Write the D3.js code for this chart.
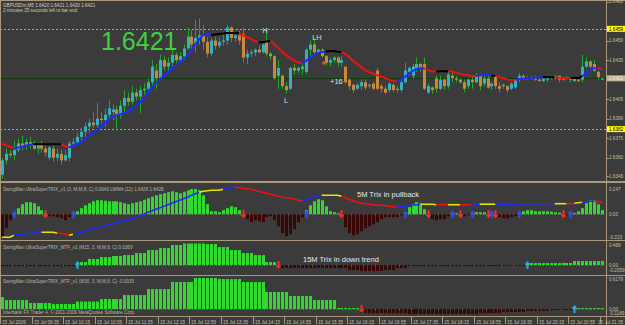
<!DOCTYPE html>
<html>
<head>
<meta charset="utf-8">
<script src="https://cdn.jsdelivr.net/npm/d3@7"></script>
<style>
body {margin:0; background:#3b3b3b;}
svg {display:block;}
</style>
</head>
<body>
<div id="chart"></div>
<script>
"use strict"

// GBPUSDm M5, 15 Jul 2009, one bar every 5 minutes from 08:55

var tickLabels = ["15 Jul 2009","15 Jul 09:35","15 Jul 10:15","15 Jul 10:55","15 Jul 11:35",
	"15 Jul 12:15","15 Jul 12:55","15 Jul 13:35","15 Jul 14:15","15 Jul 14:55","15 Jul 15:35",
	"15 Jul 16:15","15 Jul 16:55","15 Jul 17:35","15 Jul 18:15","15 Jul 18:55","15 Jul 19:35",
	"15 Jul 20:15","15 Jul 20:55","15 Jul 21:35"];
var tickEvery = 8; // bars between time labels

var open = [1.6347,1.6358,1.6363,1.6362,1.6366,1.6371,1.6369,1.6372,1.6370,1.6367,
	1.6370,1.6367,1.6360,1.6367,1.6360,1.6363,1.6358,1.6360,1.6371,1.6372,
	1.6376,1.6380,1.6384,1.6387,1.6385,1.6390,1.6389,1.6393,1.6395,1.6397,
	1.6393,1.6400,1.6406,1.6403,1.6410,1.6407,1.6412,1.6413,1.6418,1.6427,
	1.6421,1.6435,1.6430,1.6433,1.6439,1.6435,1.6438,1.6444,1.6453,1.6447,
	1.6452,1.6454,1.6449,1.6440,1.6450,1.6446,1.6449,1.6450,1.6460,1.6452,
	1.6454,1.6455,1.6437,1.6440,1.6441,1.6443,1.6441,1.6449,1.6440,1.6438,
	1.6423,1.6423,1.6415,1.6413,1.6429,1.6427,1.6428,1.6426,1.6443,1.6447,
	1.6441,1.6443,1.6438,1.6433,1.6435,1.6437,1.6433,1.6430,1.6420,1.6416,
	1.6413,1.6415,1.6418,1.6415,1.6417,1.6427,1.6415,1.6413,1.6412,1.6416,
	1.6412,1.6412,1.6418,1.6426,1.6423,1.6429,1.6432,1.6432,1.6410,1.6414,
	1.6421,1.6413,1.6420,1.6415,1.6423,1.6421,1.6420,1.6418,1.6415,1.6420,
	1.6418,1.6423,1.6417,1.6421,1.6415,1.6422,1.6415,1.6415,1.6415,1.6413,
	1.6414,1.6420,1.6423,1.6421,1.6422,1.6421,1.6420,1.6419,1.6420,1.6422,
	1.6421,1.6423,1.6420,1.6421,1.6422,1.6419,1.6420,1.6420,1.6430,1.6434,
	1.6432,1.6426,1.6420];

var high = [1.6360,1.6367,1.6366,1.6373,1.6375,1.6377,1.6375,1.6376,1.6373,1.6372,
	1.6373,1.6370,1.6369,1.6370,1.6367,1.6366,1.6366,1.6373,1.6375,1.6379,
	1.6383,1.6387,1.6390,1.6395,1.6402,1.6395,1.6398,1.6404,1.6401,1.6400,
	1.6404,1.6412,1.6410,1.6415,1.6413,1.6415,1.6417,1.6421,1.6435,1.6432,
	1.6439,1.6438,1.6437,1.6443,1.6441,1.6441,1.6447,1.6460,1.6458,1.6466,
	1.6467,1.6462,1.6453,1.6452,1.6453,1.6452,1.6457,1.6462,1.6461,1.6457,
	1.6458,1.6460,1.6443,1.6443,1.6444,1.6446,1.6449,1.6460,1.6441,1.6439,
	1.6435,1.6424,1.6418,1.6430,1.6432,1.6430,1.6433,1.6444,1.6450,1.6452,
	1.6444,1.6444,1.6439,1.6437,1.6438,1.6438,1.6438,1.6430,1.6421,1.6417,
	1.6417,1.6420,1.6420,1.6417,1.6418,1.6429,1.6417,1.6415,1.6418,1.6417,
	1.6415,1.6420,1.6433,1.6430,1.6432,1.6437,1.6433,1.6437,1.6417,1.6415,
	1.6423,1.6423,1.6421,1.6426,1.6427,1.6423,1.6421,1.6420,1.6421,1.6423,
	1.6425,1.6424,1.6424,1.6423,1.6418,1.6423,1.6418,1.6417,1.6416,1.6418,
	1.6420,1.6425,1.6424,1.6423,1.6423,1.6423,1.6422,1.6422,1.6423,1.6423,
	1.6423,1.6423,1.6422,1.6423,1.6422,1.6421,1.6422,1.6439,1.6437,1.6435,
	1.6435,1.6427,1.6421];

var low = [1.6344,1.6355,1.6360,1.6358,1.6364,1.6366,1.6366,1.6367,1.6366,1.6363,
	1.6364,1.6361,1.6358,1.6357,1.6357,1.6355,1.6357,1.6357,1.6368,1.6370,
	1.6373,1.6376,1.6379,1.6383,1.6383,1.6386,1.6384,1.6390,1.6389,1.6381,
	1.6390,1.6395,1.6400,1.6401,1.6404,1.6394,1.6407,1.6410,1.6415,1.6413,
	1.6420,1.6427,1.6427,1.6430,1.6432,1.6433,1.6435,1.6443,1.6443,1.6441,
	1.6447,1.6443,1.6437,1.6438,1.6443,1.6444,1.6446,1.6447,1.6449,1.6449,
	1.6447,1.6433,1.6432,1.6437,1.6438,1.6440,1.6440,1.6438,1.6435,1.6420,
	1.6413,1.6413,1.6409,1.6412,1.6424,1.6425,1.6424,1.6424,1.6437,1.6439,
	1.6440,1.6437,1.6431,1.6430,1.6433,1.6430,1.6430,1.6417,1.6412,1.6410,
	1.6412,1.6412,1.6412,1.6413,1.6412,1.6412,1.6410,1.6409,1.6410,1.6410,
	1.6410,1.6410,1.6417,1.6423,1.6421,1.6426,1.6426,1.6412,1.6409,1.6409,
	1.6410,1.6412,1.6412,1.6413,1.6418,1.6418,1.6417,1.6410,1.6413,1.6413,
	1.6417,1.6412,1.6415,1.6413,1.6412,1.6413,1.6410,1.6413,1.6410,1.6412,
	1.6413,1.6418,1.6420,1.6420,1.6420,1.6419,1.6418,1.6418,1.6418,1.6420,
	1.6420,1.6418,1.6419,1.6420,1.6418,1.6418,1.6418,1.6418,1.6429,1.6429,
	1.6426,1.6420,1.6420];

var close = [1.6358,1.6363,1.6362,1.6366,1.6371,1.6369,1.6372,1.6370,1.6367,1.6370,
	1.6367,1.6364,1.6368,1.6360,1.6363,1.6358,1.6362,1.6371,1.6372,1.6376,
	1.6380,1.6384,1.6387,1.6385,1.6390,1.6389,1.6393,1.6398,1.6397,1.6393,
	1.6400,1.6406,1.6403,1.6410,1.6407,1.6412,1.6413,1.6418,1.6430,1.6421,
	1.6435,1.6430,1.6433,1.6439,1.6435,1.6438,1.6444,1.6453,1.6447,1.6452,
	1.6454,1.6449,1.6440,1.6450,1.6446,1.6449,1.6450,1.6460,1.6452,1.6454,
	1.6450,1.6437,1.6440,1.6441,1.6443,1.6441,1.6447,1.6440,1.6438,1.6421,
	1.6429,1.6415,1.6412,1.6429,1.6427,1.6429,1.6430,1.6443,1.6447,1.6441,
	1.6443,1.6438,1.6433,1.6435,1.6437,1.6433,1.6435,1.6418,1.6415,1.6412,
	1.6416,1.6418,1.6414,1.6416,1.6413,1.6413,1.6413,1.6410,1.6417,1.6412,
	1.6413,1.6418,1.6427,1.6429,1.6430,1.6432,1.6429,1.6413,1.6415,1.6412,
	1.6413,1.6420,1.6415,1.6424,1.6421,1.6420,1.6418,1.6413,1.6420,1.6418,
	1.6423,1.6415,1.6421,1.6414,1.6417,1.6415,1.6413,1.6416,1.6412,1.6417,
	1.6420,1.6423,1.6421,1.6422,1.6421,1.6420,1.6419,1.6421,1.6422,1.6421,
	1.6423,1.6420,1.6421,1.6422,1.6420,1.6421,1.6419,1.6430,1.6434,1.6430,
	1.6427,1.6422,1.6421];

// LWMA (12) on the price chart, coloured by its slope
var ma = [1.63708,1.63696,1.63685,1.63673,1.63677,1.63685,1.63692,1.63700,1.63704,1.63704,
	1.63704,1.63704,1.63704,1.63704,1.63704,1.63704,1.63688,1.63681,1.63688,1.63704,
	1.63719,1.63742,1.63765,1.63788,1.63812,1.63835,1.63865,1.63892,1.63912,1.63927,
	1.63935,1.63942,1.63958,1.63981,1.64004,1.64027,1.64065,1.64104,1.64142,1.64173,
	1.64204,1.64227,1.64258,1.64288,1.64312,1.64335,1.64358,1.64381,1.64427,1.64473,
	1.64512,1.64542,1.64542,1.64542,1.64546,1.64550,1.64554,1.64558,1.64558,1.64558,
	1.64558,1.64542,1.64527,1.64512,1.64496,1.64488,1.64488,1.64492,1.64496,1.64473,
	1.64442,1.64415,1.64388,1.64365,1.64346,1.64331,1.64327,1.64342,1.64369,1.64392,
	1.64404,1.64412,1.64415,1.64419,1.64419,1.64415,1.64412,1.64396,1.64373,1.64342,
	1.64319,1.64296,1.64273,1.64258,1.64246,1.64235,1.64223,1.64212,1.64200,1.64192,
	1.64188,1.64196,1.64219,1.64242,1.64265,1.64281,1.64288,1.64285,1.64273,1.64262,
	1.64262,1.64265,1.64265,1.64265,1.64262,1.64254,1.64246,1.64238,1.64235,1.64227,
	1.64227,1.64231,1.64235,1.64235,1.64231,1.64227,1.64219,1.64212,1.64200,1.64196,
	1.64200,1.64204,1.64208,1.64212,1.64215,1.64215,1.64219,1.64219,1.64219,1.64219,
	1.64219,1.64215,1.64212,1.64212,1.64212,1.64212,1.64212,1.64227,1.64250,1.64273,
	1.64288,1.64288,1.64281];
var maSegments = [[0,3,"r"],[3,8,"b"],[8,15,"k"],[15,17,"r"],[17,53,"b"],[53,60,"k"],
	[60,65,"r"],[65,68,"k"],[68,76,"r"],[76,82,"b"],[82,86,"k"],[86,100,"r"],[100,107,"b"],
	[107,110,"r"],[110,113,"k"],[113,120,"r"],[120,124,"b"],[124,125,"k"],[125,130,"r"],
	[130,137,"b"],[137,140,"k"],[140,144,"r"],[144,147,"k"],[147,151,"b"],[151,152,"r"]];

// SwingMan UltraSuperTRIX_v1 (M5)
var trixHist = [-0.223,-0.137,-0.059,0.010,0.059,0.098,0.118,0.118,0.108,0.078,
	0.039,0.010,-0.020,-0.020,-0.029,-0.039,-0.059,-0.029,0.010,0.029,
	0.059,0.088,0.108,0.127,0.137,0.137,0.132,0.127,0.127,0.127,
	0.118,0.108,0.098,0.108,0.118,0.127,0.142,0.157,0.172,0.186,
	0.196,0.206,0.216,0.225,0.216,0.206,0.221,0.235,0.247,0.247,
	0.235,0.186,0.098,0.029,0.029,0.020,0.039,0.059,0.078,0.069,
	0.039,-0.010,-0.049,-0.078,-0.059,-0.069,-0.078,-0.029,-0.020,-0.059,
	-0.118,-0.186,-0.216,-0.196,-0.147,-0.078,-0.029,0.039,0.088,0.127,
	0.147,0.137,0.078,0.029,0.020,0.010,-0.020,-0.127,-0.186,-0.206,
	-0.196,-0.167,-0.137,-0.118,-0.098,-0.078,-0.049,-0.029,-0.029,-0.029,
	-0.029,-0.010,0.020,0.069,0.098,0.118,0.108,0.049,-0.010,-0.049,
	-0.059,-0.049,-0.049,-0.020,0.010,0.010,-0.010,-0.020,-0.010,0.010,
	0.020,0.020,0.020,-0.010,0.010,-0.010,-0.029,-0.039,-0.039,-0.029,
	-0.020,0.010,0.029,0.039,0.039,0.029,0.029,0.029,0.029,0.025,
	0.020,0.015,-0.010,-0.010,0.010,0.010,0.029,0.059,0.108,0.137,
	0.137,0.098,0.039];
var trixLine = [-0.225,-0.225,-0.225,-0.206,-0.201,-0.196,-0.191,-0.186,-0.181,-0.176,
	-0.176,-0.176,-0.176,-0.176,-0.186,-0.186,-0.196,-0.206,-0.196,-0.186,
	-0.176,-0.167,-0.152,-0.142,-0.132,-0.123,-0.113,-0.103,-0.093,-0.083,
	-0.074,-0.064,-0.054,-0.044,-0.029,-0.015,0.000,0.020,0.034,0.049,
	0.064,0.078,0.093,0.108,0.123,0.137,0.152,0.167,0.186,0.201,
	0.216,0.225,0.230,0.235,0.235,0.235,0.245,0.255,0.260,0.265,
	0.260,0.255,0.250,0.245,0.235,0.225,0.216,0.206,0.196,0.186,
	0.176,0.167,0.162,0.157,0.147,0.137,0.127,0.142,0.157,0.172,
	0.181,0.186,0.186,0.186,0.186,0.186,0.176,0.162,0.147,0.132,
	0.118,0.108,0.103,0.098,0.093,0.088,0.088,0.083,0.078,0.074,
	0.069,0.074,0.078,0.083,0.088,0.093,0.098,0.098,0.098,0.098,
	0.093,0.093,0.093,0.093,0.093,0.093,0.093,0.093,0.093,0.098,
	0.098,0.098,0.098,0.098,0.098,0.098,0.098,0.098,0.098,0.098,
	0.098,0.103,0.103,0.103,0.103,0.103,0.103,0.103,0.103,0.103,
	0.103,0.103,0.103,0.103,0.103,0.108,0.113,0.118,0.123,0.127,
	0.127,0.123,0.118];
var trixLineSegments = [[0,3,"y"],[3,10,"b"],[10,14,"y"],[14,17,"r"],[17,18,"y"],[18,50,"b"],
	[50,56,"y"],[56,59,"b"],[59,76,"r"],[76,81,"b"],[81,86,"y"],[86,100,"r"],[100,106,"b"],
	[106,110,"y"],[110,113,"r"],[113,116,"y"],[116,119,"r"],[119,121,"b"],[121,125,"y"],
	[125,140,"b"],[140,143,"y"],[143,145,"r"],[145,147,"y"],[147,150,"b"],[150,152,"r"]];
var trixUp = [3,18,77,102,114,119,124,131,144];
var trixDown = [11,61,86,108,116,123,125,142];

// MTF versions: one value per M15 / M30 bar
var m15 = [-0.022,-0.022,-0.022,-0.022,-0.022,-0.022,-0.022,0.065,0.131,0.174,
	0.196,0.218,0.261,0.327,0.370,0.436,0.469,0.469,0.458,0.392,
	0.327,0.261,0.218,0.065,-0.065,-0.065,-0.065,-0.065,-0.065,-0.065,
	-0.109,-0.131,-0.131,-0.109,-0.065,-0.022,-0.022,-0.022,-0.022,-0.022,
	-0.022,-0.022,-0.022,-0.011,-0.011,0.044,0.044,0.044,0.044,0.087,
	0.087,0.087];
var m15Up = [19,133];
var m15Down = [70];
var m30 = [0.239,0.179,0.120,0.100,0.149,0.199,0.279,0.398,0.538,0.6179,
	0.598,0.538,0.339,0.259,0.179,0.020,-0.080,-0.080,-0.100,-0.100,
	-0.100,-0.080,-0.060,-0.040,-0.020,0.020,0.020];
var m30Up = [145];
var m30Down = [91];

var priceTicks = [1.6480,1.6450,1.6435,1.6405,1.6390,1.6375,1.6360,1.6346];
var yellowLevels = [1.6459,1.6382];
var bid = 1.6421;

var W = 625, H = 325, plotRight = 606;
var font = "'Liberation Sans', Arial, sans-serif";
var frameColor = "#a8997a", axisText = "#cdbf9c", titleText = "#bcb5a2";
var lineColors = {r:"#ee1111", b:"#1b2dff", k:"#000000", y:"#e6e600"};

var svg = d3.select("#chart").append("svg")
	.attr("width",W)
	.attr("height",H)
	.style("background","#3b3b3b");

var bars = d3.range(close.length);

var x = d3.scaleLinear().domain([0,close.length-1]).range([2,602]);
var yPrice = d3.scaleLinear().domain([1.6346,1.6480]).range([176,1.5]);
var yTrix = d3.scaleLinear().domain([-0.223,0.247]).range([237,189]);
var yM15 = d3.scaleLinear().domain([-0.2059,0.469]).range([274.5,243.5]);
var yM30 = d3.scaleLinear().domain([-0.1189,0.6179]).range([315,278]);

var bx = function(i) {return Math.round(x(i));};

var text = function(g, tx, ty, s, size, color, anchor) {
	return g.append("text")
		.attr("x",tx).attr("y",ty)
		.attr("font-family",font)
		.attr("font-size",size)
		.attr("fill",color)
		.attr("text-anchor",anchor || "start")
		.text(s);
};

// ---- main price panel ----
var main = svg.append("g");

main.selectAll(".lvl").data(yellowLevels).enter().append("line")
	.attr("x1",0).attr("x2",plotRight)
	.attr("y1",function(d) {return Math.round(yPrice(d))+0.5;})
	.attr("y2",function(d) {return Math.round(yPrice(d))+0.5;})
	.attr("stroke","#b9b900")
	.attr("stroke-dasharray","2,2");

main.append("line")
	.attr("x1",0).attr("x2",plotRight)
	.attr("y1",Math.round(yPrice(bid))+0.5).attr("y2",Math.round(yPrice(bid))+0.5)
	.attr("stroke","#0e3a0e");

main.selectAll(".wick").data(bars).enter().append("line")
	.attr("x1",function(i) {return bx(i)+0.5;})
	.attr("x2",function(i) {return bx(i)+0.5;})
	.attr("y1",function(i) {return yPrice(high[i]);})
	.attr("y2",function(i) {return yPrice(low[i]);})
	.attr("stroke","#22a822");

main.selectAll(".body").data(bars).enter().append("rect")
	.attr("x",function(i) {return bx(i)-1;})
	.attr("width",3)
	.attr("y",function(i) {return yPrice(Math.max(open[i],close[i]));})
	.attr("height",function(i) {return Math.max(1,Math.abs(yPrice(open[i])-yPrice(close[i])));})
	.attr("fill",function(i) {return close[i]>=open[i] ? "#34b2c2" : "#c98b3b";});

var maLine = d3.line()
	.x(function(i) {return x(i);})
	.y(function(i) {return yPrice(ma[i]);});
maSegments.forEach(function(s) {
	main.append("path")
		.attr("d",maLine(d3.range(s[0],s[1]+1)))
		.attr("fill","none")
		.attr("stroke",lineColors[s[2]])
		.attr("stroke-width",2);
});

// swing labels
text(main,265,32.5,"H",7.5,"#dcdcdc","middle");
text(main,317,39.5,"LH",7.5,"#dcdcdc","middle");
text(main,286,102.5,"L",7.5,"#dcdcdc","middle");
text(main,330,84,"+16",7.5,"#e0e0e0");
main.append("circle").attr("cx",324).attr("cy",63).attr("r",1.8).attr("fill","#e04a5a");

text(main,101,50,d3.format(".4f")(bid),25,"#3fcf3f");

var last = close.length-1;
text(main,3,6.5,"GBPUSDm,M5  "+[open[last],high[last],low[last],close[last]].map(d3.format(".4f")).join(" "),4.6,"#d6d0c0");
text(main,3,11.8,"2 minutes 25 seconds left to bar end",4.6,"#d6ccaa");

// ---- indicator panels ----
var histogram = function(g, yScale, valueOf) {
	var y0 = yScale(0);
	g.append("line")
		.attr("x1",0).attr("x2",plotRight)
		.attr("y1",Math.round(y0)+0.5).attr("y2",Math.round(y0)+0.5)
		.attr("stroke","#707070")
		.attr("stroke-dasharray","1,2");
	g.selectAll(".bar").data(bars).enter().append("rect")
		.attr("x",function(i) {return bx(i)-1;})
		.attr("width",3)
		.attr("y",function(i) {return Math.min(yScale(valueOf(i)),y0);})
		.attr("height",function(i) {return Math.max(0.8,Math.abs(yScale(valueOf(i))-y0));})
		.attr("fill",function(i) {return valueOf(i)>=0 ? "#30d830" : "#3a0707";});
};

var arrow = function(g, i, yScale, up, color) {
	var cx = bx(i)+0.5, cy = yScale(0), s = up ? 1 : -1;
	g.append("path")
		.attr("d","M"+cx+","+(cy-4*s)+"L"+(cx+3)+","+(cy-0.5*s)+"L"+(cx+1)+","+(cy-0.5*s)+
			"L"+(cx+1)+","+(cy+4*s)+"L"+(cx-1)+","+(cy+4*s)+"L"+(cx-1)+","+(cy-0.5*s)+
			"L"+(cx-3)+","+(cy-0.5*s)+"Z")
		.attr("fill",color);
};

// panel 2: M5 TRIX
var p2 = svg.append("g");
histogram(p2,yTrix,function(i) {return trixHist[i];});
var trixPath = d3.line()
	.x(function(i) {return x(i);})
	.y(function(i) {return yTrix(trixLine[i]);});
trixLineSegments.forEach(function(s) {
	p2.append("path")
		.attr("d",trixPath(d3.range(s[0],s[1]+1)))
		.attr("fill","none")
		.attr("stroke",lineColors[s[2]])
		.attr("stroke-width",1.6);
});
trixUp.forEach(function(i) {arrow(p2,i,yTrix,true,"#2b4bff");});
trixDown.forEach(function(i) {arrow(p2,i,yTrix,false,"#ff2b2b");});
text(p2,3,191,"SwingMan UltraSuperTRIX_v1 (3, M,M,8, C) 0.0040  LWMA (12)  1.6426  1.6426",4.6,titleText);
text(p2,357,197,"5M Trix in pullback",7.5,"#e6e6e6");

// panel 3: M15 TRIX
var p3 = svg.append("g");
histogram(p3,yM15,function(i) {return m15[Math.floor((i+2)/3)];});
m15Up.forEach(function(i) {arrow(p3,i,yM15,true,"#2aa9e4");});
m15Down.forEach(function(i) {arrow(p3,i,yM15,false,"#ff2b2b");});
text(p3,3,248.5,"SwingMan UltraSuperTRIX_MTF_v1 (M15, 3, M,M,8, C) 0.0369",4.6,titleText);
text(p3,303,262,"15M Trix in down trend",7.5,"#e6e6e6");

// panel 4: M30 TRIX
var p4 = svg.append("g");
histogram(p4,yM30,function(i) {return m30[Math.floor((i+5)/6)];});
m30Up.forEach(function(i) {arrow(p4,i,yM30,true,"#2aa9e4");});
m30Down.forEach(function(i) {arrow(p4,i,yM30,false,"#ff2b2b");});
text(p4,3,282.5,"SwingMan UltraSuperTRIX_MTF_v1 (M30, 3, M,M,8, C) -0.0035",4.6,titleText);
text(p4,3,314.2,"Interbank FX Trader 4, \u00a9 2001-2009 MetaQuotes Software Corp.",4.6,titleText);

// ---- frame ----
var frame = svg.append("g").attr("stroke",frameColor);
frame.append("line").attr("x1",0).attr("x2",W).attr("y1",0.5).attr("y2",0.5);
frame.append("line").attr("x1",0.5).attr("x2",0.5).attr("y1",0).attr("y2",317);
frame.append("line").attr("x1",plotRight+0.5).attr("x2",plotRight+0.5).attr("y1",0).attr("y2",H);
frame.append("rect").attr("x",0).attr("y",181).attr("width",W).attr("height",2).attr("fill",frameColor).attr("stroke","none");
[240.5,275.5,316.5].forEach(function(yy) {
	frame.append("line").attr("x1",0).attr("x2",W).attr("y1",yy).attr("y2",yy);
});

// ---- right axis ----
var axis = svg.append("g");
var axisLabel = function(v, yy, fmt) {
	axis.append("line").attr("x1",plotRight).attr("x2",plotRight+3)
		.attr("y1",Math.round(yy)+0.5).attr("y2",Math.round(yy)+0.5).attr("stroke",frameColor);
	text(axis,609,yy+1.7,fmt(v),4.6,axisText);
};
priceTicks.forEach(function(v) {axisLabel(v,yPrice(v),d3.format(".4f"));});

var tag = function(v, bg, fg) {
	var yy = yPrice(v);
	axis.append("rect").attr("x",607).attr("y",yy-3).attr("width",18).attr("height",6).attr("fill",bg);
	text(axis,609,yy+1.7,d3.format(".4f")(v),4.6,fg);
};
yellowLevels.forEach(function(v) {tag(v,"#ffff00","#000000");});
tag(bid,"#bfb395","#f4f0e4");

var clampLabel = function(yScale, values, fmts, top, bottom) {
	values.forEach(function(v,k) {
		var yy = Math.max(top,Math.min(bottom,yScale(v)));
		text(axis,609,yy+1.7,fmts[k],4.6,axisText);
	});
};
clampLabel(yTrix,[0.247,0,-0.223],["0.247","0.00","-0.223"],186,238);
clampLabel(yM15,[0.469,0,-0.2059],["0.469","0.00","-0.2059"],245,270.5);
clampLabel(yM30,[0.6179,0,-0.1189],["0.6179","0.00","-0.1189"],279.5,313);

// ---- time axis ----
var timeAxis = svg.append("g");
tickLabels.forEach(function(s,k) {
	var tx = bx(k*tickEvery)-2;
	timeAxis.append("line").attr("x1",tx+0.5).attr("x2",tx+0.5).attr("y1",317).attr("y2",324)
		.attr("stroke",frameColor);
	// keep the last label inside the window
	text(timeAxis,Math.min(tx+2,W-27),323.5,s,4.6,axisText);
});
</script>
</body>
</html>
